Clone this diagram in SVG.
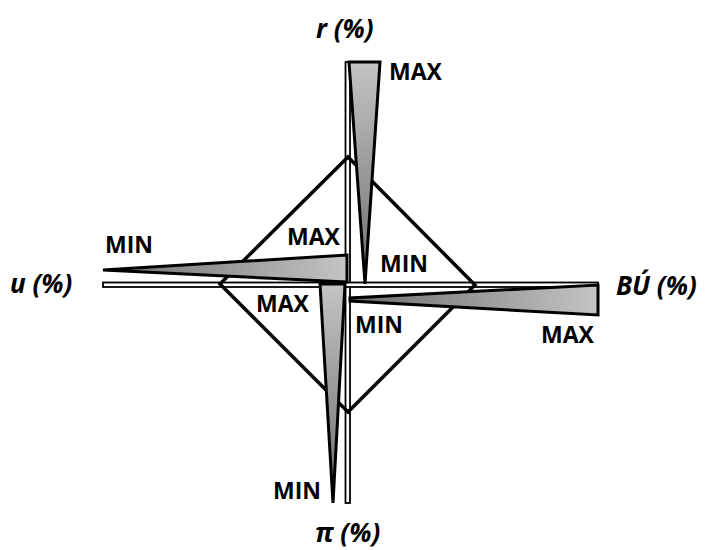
<svg xmlns="http://www.w3.org/2000/svg" width="707" height="550" viewBox="0 0 707 550">
<defs>
<linearGradient id="gV" x1="0" y1="0" x2="0" y2="1"><stop offset="0" stop-color="#c4c4c4"/><stop offset="1" stop-color="#6e6e6e"/></linearGradient>
<linearGradient id="gH" x1="1" y1="0" x2="0" y2="0"><stop offset="0" stop-color="#c4c4c4"/><stop offset="1" stop-color="#6e6e6e"/></linearGradient>
<style>
.axis{fill:#fff;stroke:#000;stroke-width:1.8}
.dia{fill:none;stroke:#000;stroke-width:3.5;stroke-linejoin:miter}
.tri{stroke:#000;stroke-width:3;stroke-linejoin:miter}
.lbl{font-family:"Open Sans","Liberation Sans",sans-serif;font-weight:bold;font-size:23px;fill:#000}
.ax{font-family:"Open Sans","Liberation Sans",sans-serif;font-weight:bold;font-style:italic;font-size:26px;fill:#000}
</style>
</defs>
<rect width="707" height="550" fill="#fff"/>
<g id="connectors">
<rect class="axis" x="345.5" y="62" width="4.5" height="441"/>
<rect class="axis" x="103" y="282.5" width="495" height="4.5"/>
</g>
<g id="diamond">
<polygon class="dia" points="348,157 475,285 348,412 220,284"/>
</g>
<g id="tri-top"><polygon class="tri" fill="url(#gV)" points="349,62 380,62 365,284"/></g>
<g id="tri-left"><polygon class="tri" fill="url(#gH)" points="347,255 347,282 103,270"/></g>
<g id="tri-right"><polygon class="tri" fill="url(#gH)" points="598,285 598,315 350,301 350,298"/></g>
<g id="tri-bottom"><polygon class="tri" fill="url(#gV)" points="320,284 345,284 333,503"/></g>
<g id="labels">
<text class="lbl" x="389" y="80">MAX</text>
<text class="lbl" x="105" y="253">MIN</text>
<text class="lbl" x="287" y="245">MAX</text>
<text class="lbl" x="380" y="272">MIN</text>
<text class="lbl" x="256" y="312">MAX</text>
<text class="lbl" x="355" y="333">MIN</text>
<text class="lbl" x="541" y="343">MAX</text>
<text class="lbl" x="273" y="499">MIN</text>
<text class="ax" x="316" y="38">r (%)</text>
<text class="ax" x="10" y="293">u (%)</text>
<text class="ax" x="616" y="295">BÚ (%)</text>
<text class="ax" x="315" y="542">π (%)</text>
</g>
</svg>
